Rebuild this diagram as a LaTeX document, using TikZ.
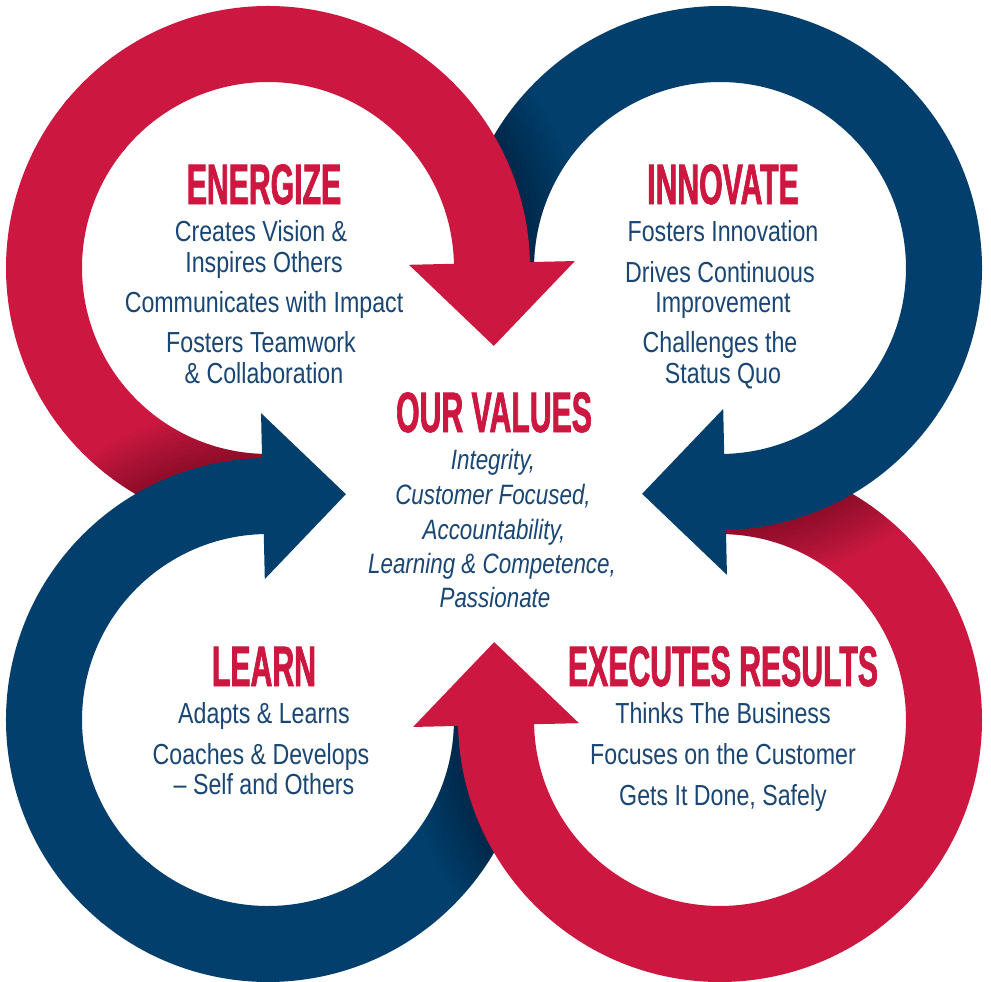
\documentclass[tikz,border=0pt]{standalone}
\usepackage{fontspec}
\setmainfont{Liberation Sans}
\newfontfamily\headfont{Liberation Sans}[FakeStretch=0.53,FakeBold=1.2]
\newfontfamily\bodyfont{Liberation Sans}[FakeStretch=0.8]
\usetikzlibrary{calc}
\definecolor{ringred}{RGB}{204,24,64}
\definecolor{ringblue}{RGB}{2,63,108}
\definecolor{txtblue}{RGB}{25,70,115}
\newcommand{\tailpath}[3]{($(#1)+(#2:262)$) arc[start angle=#2,end angle=#3,radius=262] -- ($(#1)+(#3:186)$) arc[start angle=#3,end angle=#2,radius=186] -- cycle}
\newcommand{\headpath}[3]{($(#1)+(#2:262)$) arc[start angle=#2,end angle=#3,radius=262] -- ($(#1)+(#3:307)$) -- ($(#1)+(#3:224)+({#3+90}:83)$) -- ($(#1)+(#3:141)$) -- ($(#1)+(#3:186)$) arc[start angle=#3,end angle=#2,radius=186] -- cycle}
\tikzset{
  head/.style={anchor=base, inner sep=0pt, text=ringred, font=\headfont\bfseries\fontsize{57}{57}\selectfont},
  body/.style={anchor=base, inner sep=0pt, text=txtblue, font=\bodyfont\fontsize{29}{29}\selectfont},
  val/.style={anchor=base, inner sep=0pt, text=txtblue, font=\bodyfont\itshape\fontsize{28}{28}\selectfont},
  shadestroke/.style={draw=black, draw opacity=0.028, line width=#1},
}
\newcommand{\shadowon}[6]{%
  \begin{scope}
    \clip \tailpath{#1}{#2}{#3};
    \foreach \w in {110,100,...,10}{\path[shadestroke=\w pt] \headpath{#4}{#5}{#6};}
  \end{scope}}
\begin{document}
\begin{tikzpicture}[x=1pt,y=-1pt]
\fill[white] (0,0) rectangle (991,982);
\useasboundingbox (0,0) rectangle (991,982);
\coordinate (cTL) at (268,268);
\coordinate (cTR) at (720,268);
\coordinate (cBR) at (720,720);
\coordinate (cBL) at (268,720);
% tails
\fill[ringred]  \tailpath{cTL}{85}{220};
\fill[ringblue] \tailpath{cTR}{175}{310};
\fill[ringred]  \tailpath{cBR}{265}{400};
\fill[ringblue] \tailpath{cBL}{-5}{130};
% shadows of heads on tails
\shadowon{cTL}{85}{220}{cBL}{129}{268.7}
\shadowon{cTR}{175}{310}{cTL}{219}{358.7}
\shadowon{cBR}{265}{400}{cTR}{309}{448.7}
\shadowon{cBL}{-5}{130}{cBR}{399}{538.7}
% heads
\fill[ringred]  \headpath{cTL}{219}{358.7};
\fill[ringblue] \headpath{cTR}{309}{448.7};
\fill[ringred]  \headpath{cBR}{399}{538.7};
\fill[ringblue] \headpath{cBL}{129}{268.7};
% texts top-left
\node[head] (energize) at (264,204) {ENERGIZE};
\node[body] (e1) at (261,241) {Creates Vision \&};
\node[body] (e2) at (264,272) {Inspires Others};
\node[body] (e3) at (264,312) {Communicates with Impact};
\node[body] (e4) at (261,352) {Fosters Teamwork};
\node[body] (e5) at (264,383) {\& Collaboration};
% top-right
\node[head] (innovate) at (723,204) {INNOVATE};
\node[body] (i1) at (723,241) {Fosters Innovation};
\node[body] (i2) at (720,282) {Drives Continuous};
\node[body] (i3) at (723,312) {Improvement};
\node[body] (i4) at (720,352) {Challenges the};
\node[body] (i5) at (723,383) {Status Quo};
% centre
\node[head] (values) at (494,432) {OUR VALUES};
\node[val] (v1) at (493,469.5) {Integrity,};
\node[val] (v2) at (493,504) {Customer Focused,};
\node[val] (v3) at (494,539) {Accountability,};
\node[val] (v4) at (492,573) {Learning \& Competence,};
\node[val] (v5) at (495,607) {Passionate};
% bottom-left
\node[head] (learn) at (264,686) {LEARN};
\node[body] (l1) at (264,723) {Adapts \& Learns};
\node[body] (l2) at (261,764) {Coaches \& Develops};
\node[body] (l3) at (264,794) {– Self and Others};
% bottom-right
\node[head] (execs) at (723,686) {EXECUTES RESULTS};
\node[body] (x1) at (723,723) {Thinks The Business};
\node[body] (x2) at (723,764) {Focuses on the Customer};
\node[body] (x3) at (723,805) {Gets It Done, Safely};
\end{tikzpicture}
\end{document}
